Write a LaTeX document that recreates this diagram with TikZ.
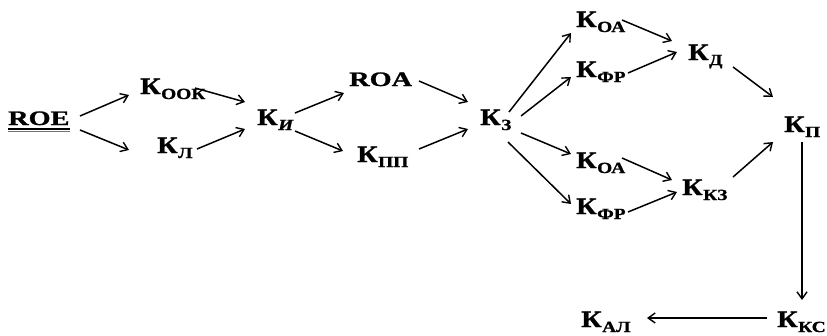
\documentclass[tikz,border=0pt]{standalone}
\usepackage{fontspec}
\setmainfont{Liberation Serif}
\newfontfamily\kfam[FakeStretch=1.2,FakeBold=1.2]{Liberation Serif}
\newfontfamily\sfam[FakeStretch=1.25,FakeBold=1.2]{Liberation Serif}
\newfontfamily\wfam[FakeStretch=1.38,FakeBold=1.2]{Liberation Serif}
\usetikzlibrary{arrows.meta,calc}

% K with a lowered subscript
\newcommand{\Kx}[1]{{\kfam\bfseries\fontsize{23.5}{25}\selectfont К}\kern0.5pt{\sfam\bfseries\fontsize{15.5}{17}\selectfont\raisebox{-5pt}{#1}}}

\begin{document}
\begin{tikzpicture}[x=1pt,y=-1pt,
  lbl/.style={inner sep=0pt,anchor=base west},
  arr/.style={line width=1.5pt,-{Straight Barb[length=7pt,width=10pt,line width=1.4pt]}}]
\useasboundingbox (0,0) rectangle (827,335);

% labels
\node[lbl] (roe) at (8,125)   {\wfam\bfseries\fontsize{20.5}{22}\selectfont ROE};
\node[lbl] (ook) at (140,94)  {\Kx{ООК}};
\node[lbl] (kl)  at (157,153) {\Kx{Л}};
\node[lbl] (ki)  at (257,125) {\Kx{\itshape И}};
\node[lbl] (roa) at (349,86)  {\wfam\bfseries\fontsize{20.5}{22}\selectfont ROA};
\node[lbl] (kpp) at (357,162) {\Kx{ПП}};
\node[lbl] (kz)  at (480,125) {\Kx{З}};
\node[lbl] (oa1) at (576,27)  {\Kx{ОА}};
\node[lbl] (fr1) at (576,77)  {\Kx{ФР}};
\node[lbl] (kd)  at (688,60)  {\Kx{Д}};
\node[lbl] (kp)  at (784,132) {\Kx{П}};
\node[lbl] (oa2) at (576,168) {\Kx{ОА}};
\node[lbl] (fr2) at (576,214) {\Kx{ФР}};
\node[lbl] (kkz) at (682,195) {\Kx{КЗ}};
\node[lbl] (kks) at (777,327) {\Kx{КС}};
\node[lbl] (kal) at (581,327) {\Kx{АЛ}};

% double underline of ROE
\draw[line width=2pt] ($(roe.base west)+(0,3.5)$) -- ($(roe.base east)+(0,3.5)$);
\draw[line width=0.8pt,black!55] ($(roe.base west)+(0,6.3)$) -- ($(roe.base east)+(0,6.3)$);

% connectors
\draw[arr] ($(roe.base west)+(72,-9)$)  -- ($(ook.base west)+(-11,1)$);
\draw[arr] ($(roe.base west)+(72,5)$)   -- ($(kl.base west)+(-28,-3)$);
\draw[arr] ($(ook.base west)+(55,-6)$)  -- ($(ki.base west)+(-12,-23)$);
\draw[arr] ($(kl.base west)+(40,-4)$)   -- ($(ki.base west)+(-12,4)$);
\draw[arr] ($(ki.base west)+(38,-12)$)  -- ($(roa.base west)+(-5,7)$);
\draw[arr] ($(ki.base west)+(38,6)$)    -- ($(kpp.base west)+(-14,-11)$);
\draw[arr] ($(roa.base west)+(70,-5)$)  -- ($(kz.base west)+(-12,-23)$);
\draw[arr] ($(kpp.base west)+(62,-13)$) -- ($(kz.base west)+(-12,4)$);
\draw[arr] ($(kz.base west)+(29,-13)$)  -- ($(oa1.base west)+(-5,6)$);
\draw[arr] ($(kz.base west)+(41,-9)$)   -- ($(fr1.base west)+(-5,0)$);
\draw[arr] ($(kz.base west)+(41,8)$)    -- ($(oa2.base west)+(-5,-14)$);
\draw[arr] ($(kz.base west)+(28,17)$)   -- ($(fr2.base west)+(-5,-10)$);
\draw[arr] ($(oa1.base west)+(46,-7)$)  -- ($(kd.base west)+(-16,-19)$);
\draw[arr] ($(fr1.base west)+(52,-4)$)  -- ($(kd.base west)+(-11,-8)$);
\draw[arr] ($(kd.base west)+(45,7)$)    -- ($(kp.base west)+(-11,-35)$);
\draw[arr] ($(oa2.base west)+(46,-10)$) -- ($(kkz.base west)+(-10,-15)$);
\draw[arr] ($(fr2.base west)+(52,-2)$)  -- ($(kkz.base west)+(-5,-3)$);
\draw[arr] ($(kkz.base west)+(51,-18)$) -- ($(kp.base west)+(-11,10)$);
\draw[arr] ($(kp.base west)+(18,10)$)   -- ($(kks.base west)+(25,-27)$);
\draw[arr] ($(kks.base west)+(-10,-9)$) -- ($(kal.base west)+(66,-9)$);
\end{tikzpicture}
\end{document}
